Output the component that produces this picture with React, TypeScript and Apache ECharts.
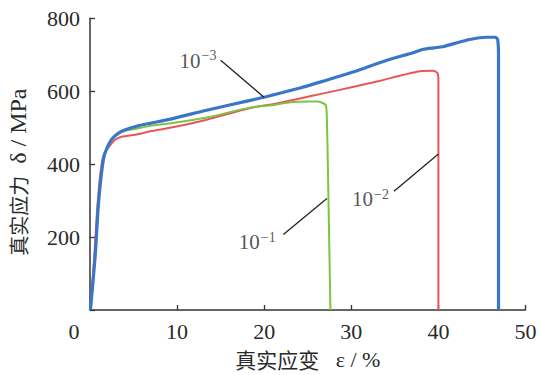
import React, { useEffect, useRef } from "react";
import * as echarts from "echarts";

// strain rate 10^-3 : true strain (%) , true stress (MPa)
const strain3 = [0.05, 0.6, 1.0, 1.6, 2.4, 3.6, 5.5, 6.9, 9.5, 13.4, 18.4, 20.1, 24.1, 26.4, 30.2, 34.1, 37.0, 38.3, 39.5, 40.5, 42.0, 43.6, 45.5, 46.5, 46.8, 46.9, 46.9];
const stress3 = [0, 150, 300, 420, 465, 490, 505, 512, 525, 548, 575, 584, 609, 625, 653, 685, 705, 715, 719, 722, 732, 742, 748, 748, 742, 700, 0];

// strain rate 10^-2
const strain2 = [0.05, 0.5, 0.9, 1.5, 2.8, 3.6, 5.5, 6.9, 9.5, 13.4, 18.4, 21.3, 24.1, 26.4, 29.9, 33.2, 36.0, 37.9, 39.4, 39.9, 40.0, 40.0];
const stress2 = [0, 150, 300, 420, 465, 475, 482, 490, 501, 522, 554, 566, 580, 592, 610, 628, 645, 655, 656, 650, 630, 0];

// strain rate 10^-1
const strain1 = [0.05, 0.6, 1.0, 1.6, 2.4, 3.6, 5.5, 6.9, 9.5, 13.4, 18.4, 21.3, 23.0, 25.0, 26.1, 26.8, 27.1, 27.2, 27.3, 27.6];
const stress1 = [0, 150, 300, 420, 465, 488, 498, 505, 513, 528, 555, 563, 570, 572, 572, 567, 560, 520, 410, 0];

const rateLabels = ["10^-3", "10^-2", "10^-1"];
// leader lines: [label end], [curve end]  (strain, stress)
const leader3 = [[15.0, 685], [20.0, 583]];
const leader2 = [[34.9, 326], [40.0, 428]];
const leader1 = [[22.2, 207], [27.2, 306]];
// label centres (strain, stress)
const labelPos = [[12.4, 684], [32.2, 304], [19.2, 186]];

const xTicks = [0, 10, 20, 30, 40, 50];
const yTicks = [0, 200, 400, 600, 800];

const zip = (a: number[], b: number[]) => a.map((v, i) => [v, b[i]]);

export default function App() {
  const ref = useRef<HTMLDivElement>(null);
  useEffect(() => {
    if (!ref.current) return;
    const chart = echarts.init(ref.current, null, { renderer: "svg" });
    const serif = "Liberation Serif, serif";
    const cjk = "Noto Sans CJK SC, sans-serif";
    const ink = "#2a2a2a";
    const leaderStyle = { color: "#222", width: 1.3 };
    const makeLabel = (text: string) => {
      const [base, exp] = text.split("^");
      return `{b|${base}}{s|${exp.replace("-", "\u2212")}}`;
    };
    chart.setOption({
      animation: false,
      grid: { left: 90, right: 14.5, top: 18.3, bottom: 65, containLabel: false, outerBoundsMode: "none" },
      xAxis: {
        type: "value",
        min: xTicks[0],
        max: xTicks[xTicks.length - 1],
        interval: 10,
        name: "{c|真实应变}{l|   ε / %}",
        nameLocation: "middle",
        nameGap: 39,
        nameTextStyle: {
          lineHeight: 20,
          rich: {
            c: { fontFamily: cjk, fontSize: 21, color: ink, lineHeight: 20 },
            l: { fontFamily: serif, fontSize: 22, color: ink, lineHeight: 20 },
          },
        },
        axisLine: { lineStyle: { color: "#333", width: 1.5 } },
        axisTick: { inside: true, length: 5, lineStyle: { color: "#333", width: 1.3 } },
        splitLine: { show: false },
        axisLabel: {
          margin: 10,
          fontFamily: serif,
          fontSize: 22,
          color: ink,
          formatter: (v: number) => (v === 0 ? "{z|0}" : String(v)),
          rich: { z: { fontFamily: serif, fontSize: 22, color: ink, padding: [0, 32, 0, 0] } },
        },
      },
      yAxis: {
        type: "value",
        min: yTicks[0],
        max: yTicks[yTicks.length - 1],
        interval: 200,
        name: "{c|真实应力}{l|  δ / MPa}",
        nameLocation: "middle",
        nameGap: 60,
        nameTextStyle: {
          padding: [0, 16, 0, 0],
          rich: {
            c: { fontFamily: cjk, fontSize: 20, color: ink },
            l: { fontFamily: serif, fontSize: 24, color: ink },
          },
        },
        axisLine: { show: true, lineStyle: { color: "#333", width: 1.5 } },
        axisTick: { show: true, inside: true, length: 5, lineStyle: { color: "#333", width: 1.3 } },
        splitLine: { show: false },
        axisLabel: {
          margin: 10,
          fontFamily: serif,
          fontSize: 22,
          color: ink,
          formatter: (v: number) => (v === 0 ? "" : String(v)),
        },
      },
      series: [
        {
          type: "line",
          data: zip(strain2, stress2),
          showSymbol: false,
          smooth: 0.25,
          lineStyle: { color: "#e8565a", width: 2 },
          z: 3,
        },
        {
          type: "line",
          data: zip(strain1, stress1),
          showSymbol: false,
          smooth: 0.25,
          lineStyle: { color: "#7cc443", width: 2 },
          z: 4,
        },
        {
          type: "line",
          data: zip(strain3, stress3),
          showSymbol: false,
          smooth: 0.25,
          lineStyle: { color: "#3a76c8", width: 3.2 },
          z: 5,
        },
        { type: "line", data: leader3, showSymbol: false, lineStyle: leaderStyle, z: 6 },
        { type: "line", data: leader2, showSymbol: false, lineStyle: leaderStyle, z: 6 },
        { type: "line", data: leader1, showSymbol: false, lineStyle: leaderStyle, z: 6 },
        {
          type: "scatter",
          symbolSize: 0,
          z: 7,
          data: labelPos.map((p, i) => ({ value: p, name: rateLabels[i] })),
          label: {
            show: true,
            position: "inside",
            formatter: (p: any) => makeLabel(p.name),
            rich: {
              b: { fontFamily: serif, fontSize: 21, color: ink },
              s: { fontFamily: serif, fontSize: 14, color: ink, verticalAlign: "top", padding: [0, 0, 10, 1] },
            },
          },
        },
      ],
    });
    return () => chart.dispose();
  }, []);
  return (
    <div
      ref={ref}
      style={{ position: "fixed", left: 0, top: 0, width: 540, height: 375, background: "#fff" }}
    />
  );
}
